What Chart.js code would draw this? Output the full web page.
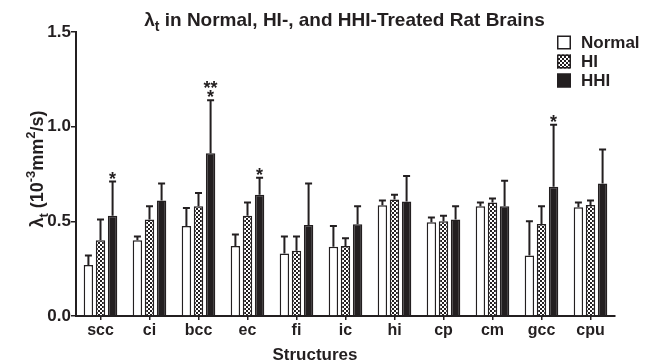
<!DOCTYPE html>
<html>
<head>
<meta charset="utf-8">
<script src="https://cdn.jsdelivr.net/npm/chart.js@4"></script>
<style>
  body { margin: 0; background: #fff; }
  #wrap { width: 652px; height: 362px; }
</style>
</head>
<body>
<div id="wrap"><canvas id="lambdaChart" width="652" height="362"></canvas></div>
<script>
// data (10^-3 mm^2/s)
const categories = ['scc', 'ci', 'bcc', 'ec', 'fi', 'ic', 'hi', 'cp', 'cm', 'gcc', 'cpu'];
const normalMean = [0.27, 0.40, 0.475, 0.37, 0.33, 0.366, 0.585, 0.495, 0.58, 0.32, 0.574];
const normalSD   = [0.05, 0.02, 0.095, 0.06, 0.09, 0.11, 0.025, 0.025, 0.02, 0.18, 0.026];
const hiMean     = [0.40, 0.51, 0.58, 0.53, 0.345, 0.37, 0.615, 0.50, 0.60, 0.486, 0.586];
const hiSD       = [0.11, 0.07, 0.07, 0.07, 0.075, 0.04, 0.025, 0.03, 0.02, 0.094, 0.024];
const hhiMean    = [0.53, 0.61, 0.86, 0.64, 0.48, 0.485, 0.605, 0.51, 0.58, 0.683, 0.70];
const hhiSD      = [0.18, 0.09, 0.28, 0.09, 0.22, 0.095, 0.135, 0.07, 0.135, 0.327, 0.18];
// significance marks above HHI bars, top line first
const hhiStars   = [['*'], [], ['**', '*'], ['*'], [], [], [], [], [], ['*'], []];
const yTicks     = [0, 0.5, 1.0, 1.5];

const ink = '#231f20';
const fontFam = '"Liberation Sans", Arial, sans-serif';

// small checker pattern for the HI bars
function checker() {
  const c = document.createElement('canvas');
  c.width = 4; c.height = 4;
  const g = c.getContext('2d');
  g.fillStyle = '#fff';
  g.fillRect(0, 0, 4, 4);
  g.fillStyle = ink;
  g.fillRect(0, 0, 2, 2);
  g.fillRect(2, 2, 2, 2);
  return g.createPattern(c, 'repeat');
}
const hiFill = checker();

// draws text with sub/superscripts, centred on x
function drawRich(ctx, parts, x, y, size) {
  const small = Math.round(size * 0.72);
  let w = 0;
  parts.forEach(p => {
    ctx.font = 'bold ' + (p.s ? small : size) + 'px ' + fontFam;
    w += ctx.measureText(p.t).width;
  });
  let cx = x - w / 2;
  ctx.textAlign = 'left';
  ctx.textBaseline = 'alphabetic';
  parts.forEach(p => {
    ctx.font = 'bold ' + (p.s ? small : size) + 'px ' + fontFam;
    let dy = 0;
    if (p.s === 'sub') dy = size * 0.28;
    if (p.s === 'sup') dy = -size * 0.42;
    ctx.fillText(p.t, cx, y + dy);
    cx += ctx.measureText(p.t).width;
  });
}

const sds = [normalSD, hiSD, hhiSD];
const means = [normalMean, hiMean, hhiMean];

const extras = {
  id: 'extras',
  afterDatasetsDraw(chart) {
    const ctx = chart.ctx;
    const y = chart.scales.y;
    const area = chart.chartArea;
    ctx.save();
    ctx.strokeStyle = ink;
    ctx.fillStyle = ink;
    ctx.lineWidth = 2;
    // error bars (upper only)
    chart.data.datasets.forEach((ds, i) => {
      const meta = chart.getDatasetMeta(i);
      meta.data.forEach((bar, j) => {
        const top = y.getPixelForValue(means[i][j] + sds[i][j]);
        ctx.beginPath();
        ctx.moveTo(bar.x, bar.y);
        ctx.lineTo(bar.x, top);
        ctx.moveTo(bar.x - 3.5, top);
        ctx.lineTo(bar.x + 3.5, top);
        ctx.stroke();
        if (i === 2) {
          const lines = hhiStars[j];
          ctx.font = 'bold 18px ' + fontFam;
          ctx.textAlign = 'center';
          ctx.textBaseline = 'alphabetic';
          for (let k = lines.length - 1, n = 0; k >= 0; k--, n++) {
            ctx.fillText(lines[k], bar.x, top + 3 - n * 9);
          }
        }
      });
    });

    // title
    const cx = (area.left + area.right) / 2;
    drawRich(ctx, [{ t: 'λ' }, { t: 't', s: 'sub' }, { t: ' in Normal, HI-, and HHI-Treated Rat Brains' }], cx - 1, 26, 19);

    // y axis title
    ctx.save();
    ctx.translate(43, 169);
    ctx.rotate(-Math.PI / 2);
    drawRich(ctx, [{ t: 'λ' }, { t: 't', s: 'sub' }, { t: ' (10' }, { t: '-3', s: 'sup' },
      { t: 'mm' }, { t: '2', s: 'sup' }, { t: '/s)' }], 0, 0, 18);
    ctx.restore();

    // x axis title
    drawRich(ctx, [{ t: 'Structures' }], 315, 360, 17);

    // legend
    ctx.font = 'bold 17px ' + fontFam;
    ctx.textAlign = 'left';
    ctx.textBaseline = 'middle';
    ctx.lineWidth = 1.5;
    chart.data.datasets.forEach((ds, i) => {
      const ly = 42.5 + i * 19;
      ctx.fillStyle = ds.backgroundColor;
      ctx.fillRect(557, ly - 7, 14, 14);
      ctx.strokeRect(557.75, ly - 6.25, 12.5, 12.5);
      ctx.fillStyle = ink;
      ctx.fillText(ds.label, 581, ly + 1);
    });
    ctx.restore();
  }
};

const chartData = {
  labels: categories,
  datasets: [
    { label: 'Normal', data: normalMean, backgroundColor: '#ffffff', borderColor: ink, borderWidth: 1.5 },
    { label: 'HI', data: hiMean, backgroundColor: hiFill, borderColor: ink, borderWidth: 1.5 },
    { label: 'HHI', data: hhiMean, backgroundColor: ink, borderColor: ink, borderWidth: 1.5 }
  ]
};

const config = {
  type: 'bar',
  data: chartData,
  options: {
    responsive: false,
    animation: false,
    categoryPercentage: 0.74,
    barPercentage: 0.78,
    layout: { padding: { top: 32, right: 37, left: 0, bottom: 0 } },
    plugins: {
      legend: { display: false },
      title: { display: false },
      tooltip: { enabled: false }
    },
    scales: {
      x: {
        grid: { offset: false, drawOnChartArea: false, drawTicks: true, tickLength: 4, color: ink, lineWidth: 1.5 },
        border: { display: true, color: ink, width: 2 },
        ticks: { color: ink, font: { family: fontFam, size: 16, weight: 'bold' }, padding: 1, maxRotation: 0 },
        afterFit: s => { s.height = 46; }
      },
      y: {
        min: 0,
        max: 1.5,
        afterBuildTicks: s => { s.ticks = yTicks.map(v => ({ value: v })); },
        grid: { drawOnChartArea: false, drawTicks: true, tickLength: 5, color: ink, lineWidth: 1.5 },
        border: { display: true, color: ink, width: 2 },
        ticks: { color: ink, font: { family: fontFam, size: 17, weight: 'bold' }, padding: 0, callback: v => Number(v).toFixed(1) },
        afterFit: s => { s.width = 76; }
      }
    }
  },
  plugins: [extras]
};

try {
  new Chart(document.getElementById('lambdaChart').getContext('2d'), config);
} catch (error) {
  console.error('Error rendering the chart:', error);
}
</script>
</body>
</html>
